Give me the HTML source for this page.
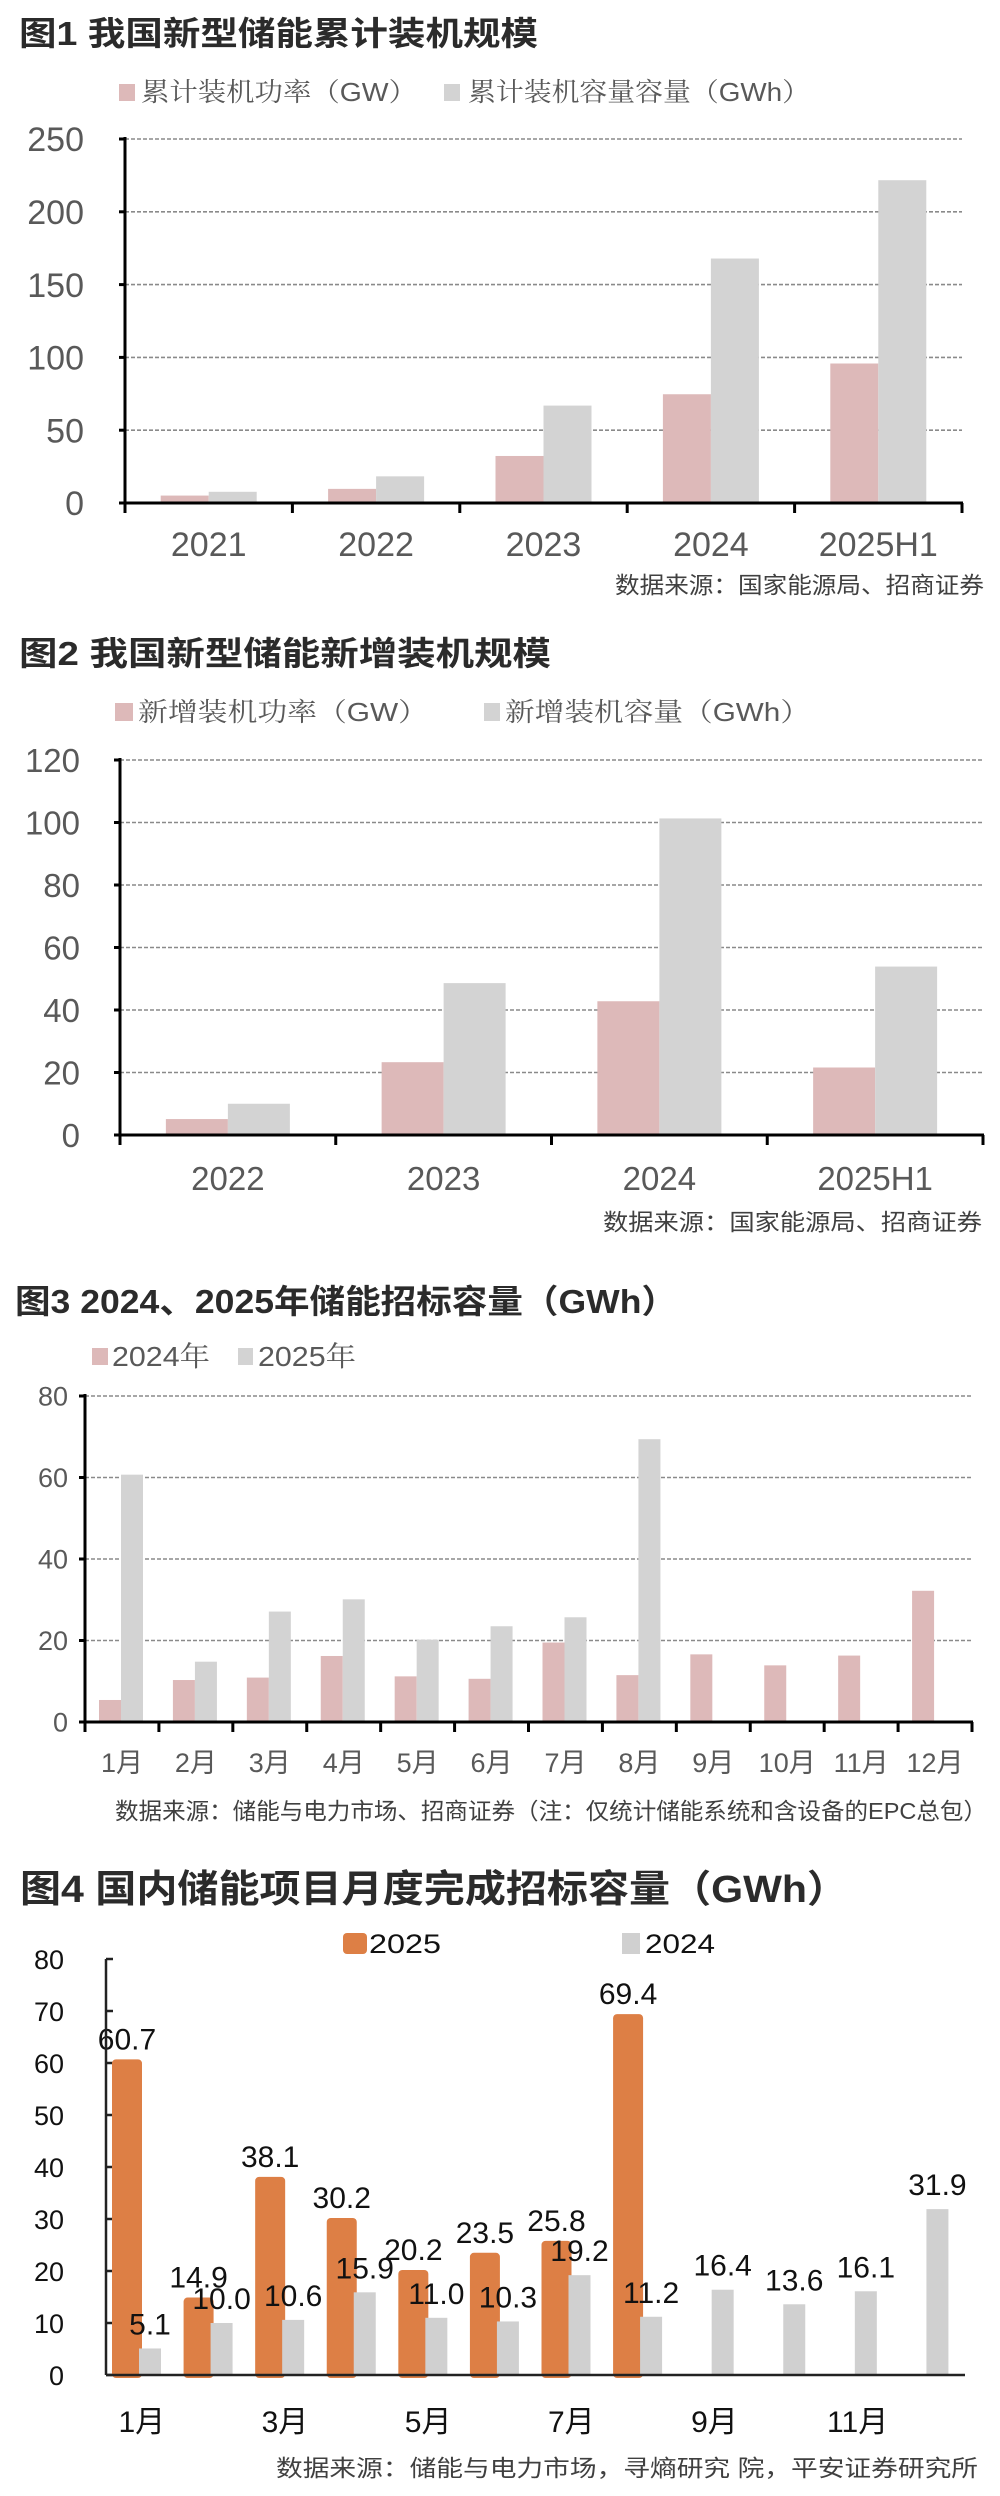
<!DOCTYPE html>
<html><head><meta charset="utf-8">
<style>
html,body{margin:0;padding:0;background:#fff;}
svg{display:block;font-family:"Liberation Sans","Noto Sans CJK SC",sans-serif;}
.title{font-weight:bold;fill:#2b2b2b;}
.src{fill:#404040;font-size:23px;}
.tick{fill:#595959;}
.leg{fill:#595959;font-family:"Liberation Sans","Noto Serif CJK SC",serif;}
</style></head>
<body>
<svg id="page" xmlns="http://www.w3.org/2000/svg" width="1000" height="2496" viewBox="0 0 1000 2496">
<rect width="1000" height="2496" fill="#fff"/>
<text class="title" x="19" y="45" font-size="33" textLength="519" lengthAdjust="spacingAndGlyphs">图1 我国新型储能累计装机规模</text>
<rect x="119" y="84" width="16" height="17" fill="#DDB9B9"/>
<text class="leg" x="141" y="101" font-size="26" textLength="276" lengthAdjust="spacingAndGlyphs">累计装机功率（GW）</text>
<rect x="444" y="84" width="16" height="17" fill="#D3D3D3"/>
<text class="leg" x="468" y="101" font-size="26" textLength="342" lengthAdjust="spacingAndGlyphs">累计装机容量容量（GWh）</text>
<text class="src" x="615" y="593" textLength="369" lengthAdjust="spacingAndGlyphs">数据来源：国家能源局、招商证券</text>
<text class="title" x="19" y="665" font-size="33" textLength="532" lengthAdjust="spacingAndGlyphs">图2 我国新型储能新增装机规模</text>
<rect x="115" y="703" width="18" height="18" fill="#DDB9B9"/>
<text class="leg" x="138" y="721" font-size="26" textLength="290" lengthAdjust="spacingAndGlyphs">新增装机功率（GW）</text>
<rect x="484" y="703" width="16" height="18" fill="#D3D3D3"/>
<text class="leg" x="505" y="721" font-size="26" textLength="305" lengthAdjust="spacingAndGlyphs">新增装机容量（GWh）</text>
<text class="src" x="603" y="1230" textLength="379" lengthAdjust="spacingAndGlyphs">数据来源：国家能源局、招商证券</text>
<text class="title" x="15" y="1313" font-size="33" textLength="662" lengthAdjust="spacingAndGlyphs">图3 2024、2025年储能招标容量（GWh）</text>
<rect x="92" y="1348" width="16" height="17" fill="#DDB9B9"/>
<text class="leg" x="112" y="1366" font-size="28" textLength="98" lengthAdjust="spacingAndGlyphs">2024年</text>
<rect x="238" y="1348" width="15" height="17" fill="#D3D3D3"/>
<text class="leg" x="258" y="1366" font-size="28" textLength="98" lengthAdjust="spacingAndGlyphs">2025年</text>
<text class="src" x="115" y="1819" textLength="872" lengthAdjust="spacingAndGlyphs">数据来源：储能与电力市场、招商证券（注：仅统计储能系统和含设备的EPC总包）</text>
<text class="title" x="20" y="1902" font-size="38" textLength="828" lengthAdjust="spacingAndGlyphs">图4 国内储能项目月度完成招标容量（GWh）</text>
<rect x="343" y="1933" width="24" height="21" rx="4" fill="#DD7F45"/>
<text x="369" y="1953" font-size="27" fill="#111" textLength="72" lengthAdjust="spacingAndGlyphs">2025</text>
<rect x="622" y="1933" width="18" height="21" fill="#D0D0D0"/>
<text x="645" y="1953" font-size="27" fill="#111" textLength="70" lengthAdjust="spacingAndGlyphs">2024</text>
<text class="src" x="276" y="2476" fill="#555" textLength="702" lengthAdjust="spacingAndGlyphs">数据来源：储能与电力市场，寻熵研究 院，平安证券研究所</text>
<g id="charts"></g>
</svg>
<script>
const c1Categories = ["2021","2022","2023","2024","2025H1"];
const c1Power = [5.1, 9.7, 32.3, 74.7, 95.8];
const c1Capacity = [7.7, 18.3, 66.9, 167.9, 221.7];
const c1Ticks = [0, 50, 100, 150, 200, 250];
const c2Categories = ["2022","2023","2024","2025H1"];
const c2Power = [5.1, 23.3, 42.8, 21.6];
const c2Capacity = [10.0, 48.6, 101.3, 53.9];
const c2Ticks = [0, 20, 40, 60, 80, 100, 120];
const c3Categories = ["1月","2月","3月","4月","5月","6月","7月","8月","9月","10月","11月","12月"];
const c3Y2024 = [5.4, 10.3, 10.9, 16.2, 11.2, 10.6, 19.5, 11.5, 16.6, 13.9, 16.3, 32.2];
const c3Y2025 = [60.7, 14.8, 27.1, 30.1, 20.2, 23.5, 25.7, 69.4, null, null, null, null];
const c3Ticks = [0, 20, 40, 60, 80];
const c4Categories = ["1月","2月","3月","4月","5月","6月","7月","8月","9月","10月","11月","12月"];
const c4Y2025 = [60.7, 14.9, 38.1, 30.2, 20.2, 23.5, 25.8, 69.4, null, null, null, null];
const c4Y2024 = [5.1, 10.0, 10.6, 15.9, 11.0, 10.3, 19.2, 11.2, 16.4, 13.6, 16.1, 31.9];
const c4Labels2025 = ["60.7","14.9","38.1","30.2","20.2","23.5","25.8","69.4"];
const c4Labels2024 = ["5.1","10.0","10.6","15.9","11.0","10.3","19.2","11.2","16.4","13.6","16.1","31.9"];
const c4Ticks = [0, 10, 20, 30, 40, 50, 60, 70, 80];

const NS = "http://www.w3.org/2000/svg";
const root = document.getElementById("charts");
function mk(tag, attrs, parent) {
  const e = document.createElementNS(NS, tag);
  for (const k in attrs) e.setAttribute(k, attrs[k]);
  (parent || root).appendChild(e);
  return e;
}
function scaleY(y0, y1, max) { return v => y0 - (v / max) * (y0 - y1); }

function standardChart(id, cfg) {
  const g = mk("g", {});
  
  
  const y = scaleY(cfg.y0, cfg.yTop, cfg.max);
  const n = cfg.cats.length;
  const gw = (cfg.xR - cfg.xL) / n;
  cfg.ticks.forEach(t => {
    if (t > 0) {
      const gl = mk("line", {x1: cfg.xL, x2: cfg.xR, y1: y(t), y2: y(t), stroke: "#8a8a8a", "stroke-width": 1.6, "stroke-dasharray": "4 2"}, g);
      
      
    }
    const tk = mk("line", {x1: cfg.xL - 6, x2: cfg.xL, y1: y(t), y2: y(t), stroke: "#000", "stroke-width": 3}, g);
    
    
    const tl = mk("text", {x: cfg.labelX, y: y(t) + cfg.tickFont * 0.36, "text-anchor": "end", "font-size": cfg.tickFont, class: "tick"}, g);
    
    
    tl.textContent = t;
  });
  cfg.cats.forEach((c, i) => {
    const gx = cfg.xL + i * gw;
    const a = cfg.s1[i], b = cfg.s2[i];
    if (a != null) {
      const r = mk("rect", {x: gx + cfg.off, y: y(a), width: cfg.bw, height: cfg.y0 - y(a), fill: "#DDB9B9"}, g);
      
      
    }
    if (b != null) {
      const r = mk("rect", {x: gx + cfg.off + cfg.bw, y: y(b), width: cfg.bw, height: cfg.y0 - y(b), fill: "#D3D3D3"}, g);
      
      
    }
    const xl = mk("text", {x: gx + gw / 2, y: cfg.catY, "text-anchor": "middle", "font-size": cfg.catFont, class: "tick"}, g);
    
    
    xl.textContent = c;
  });
  for (let i = 0; i <= n; i++) {
    const xt = mk("line", {x1: cfg.xL + i * gw, x2: cfg.xL + i * gw, y1: cfg.y0, y2: cfg.y0 + 10, stroke: "#000", "stroke-width": 3}, g);
    
    
  }
  const ya = mk("line", {x1: cfg.xL, x2: cfg.xL, y1: cfg.yTop - 2, y2: cfg.y0 + 1, stroke: "#000", "stroke-width": 3}, g);
  
  
  const xa = mk("line", {x1: cfg.xL - 6, x2: cfg.xR + 1, y1: cfg.y0, y2: cfg.y0, stroke: "#000", "stroke-width": 3}, g);
  
  
}

standardChart("chart1", {cats: c1Categories, s1: c1Power, s2: c1Capacity, n1: "power", n2: "capacity", ticks: c1Ticks, max: 250,
  xL: 125, xR: 962, y0: 503, yTop: 139, bw: 48, off: (167.4 - 96) / 2, labelX: 84, tickFont: 34, catFont: 34, catY: 556});
standardChart("chart2", {cats: c2Categories, s1: c2Power, s2: c2Capacity, n1: "power", n2: "capacity", ticks: c2Ticks, max: 120,
  xL: 120, xR: 983, y0: 1135, yTop: 760, bw: 62, off: (215.75 - 124) / 2, labelX: 80, tickFont: 33, catFont: 33, catY: 1190});
standardChart("chart3", {cats: c3Categories, s1: c3Y2024, s2: c3Y2025, n1: "2024", n2: "2025", ticks: c3Ticks, max: 80,
  xL: 85, xR: 972, y0: 1722, yTop: 1396, bw: 22, off: 14, labelX: 68, tickFont: 27, catFont: 27, catY: 1772});

(function () {
  const g = mk("g", {});
  
  
  const xL = 106, xR = 965, y0 = 2375, yTop = 1959;
  const y = scaleY(y0, yTop, 80);
  const gw = (xR - xL) / c4Categories.length;
  c4Ticks.forEach(t => {
    const tk = mk("line", {x1: xL, x2: xL + 7, y1: y(t), y2: y(t), stroke: "#222", "stroke-width": 2.5}, g);
    
    
    const tl = mk("text", {x: 64, y: y(t) + 10, "text-anchor": "end", "font-size": 27, fill: "#111"}, g);
    
    
    tl.textContent = t;
  });
  c4Categories.forEach((c, i) => {
    const gx = xL + i * gw;
    const a = c4Y2025[i], b = c4Y2024[i];
    if (a != null) {
      const r = mk("rect", {x: gx + 6, y: y(a), width: 30, height: y0 - y(a) + 3, rx: 4, fill: "#DD7F45"}, g);
      
      
      const l = mk("text", {x: gx + 21, y: y(a) - 10, "text-anchor": "middle", "font-size": 30, fill: "#111"}, g);
      
      
      l.textContent = c4Labels2025[i];
    }
    if (b != null) {
      const r = mk("rect", {x: gx + 33, y: y(b), width: 22, height: y0 - y(b), fill: "#D0D0D0"}, g);
      
      
      const l = mk("text", {x: gx + 44, y: y(b) - 14, "text-anchor": "middle", "font-size": 30, fill: "#111"}, g);
      
      
      l.textContent = c4Labels2024[i];
    }
    if (i % 2 === 0) {
      const xl = mk("text", {x: gx + gw / 2, y: y0 + 57, "text-anchor": "middle", "font-size": 30, fill: "#111"}, g);
      
      
      xl.textContent = c;
    }
  });
  const ya = mk("line", {x1: xL, x2: xL, y1: yTop, y2: y0, stroke: "#222", "stroke-width": 2.5}, g);
  
  
  const xa = mk("line", {x1: xL, x2: xR, y1: y0, y2: y0, stroke: "#222", "stroke-width": 2.5}, g);
  
  
})();
</script>
</body></html>
